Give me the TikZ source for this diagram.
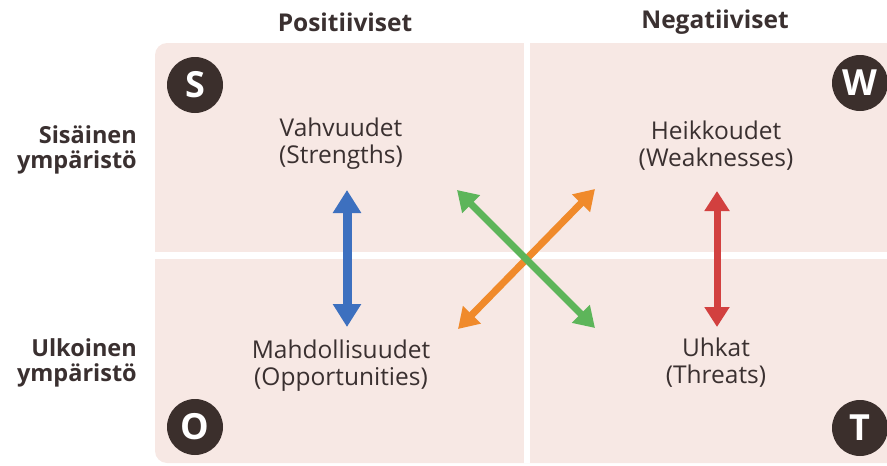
\documentclass[tikz,border=0pt]{standalone}
\usepackage{fontspec}
\setmainfont{Open Sans}
\usetikzlibrary{arrows.meta}
\definecolor{quadfill}{HTML}{F7E8E4}
\definecolor{badge}{HTML}{3B2F2C}
\definecolor{ink}{HTML}{3A3030}
\definecolor{arrblue}{HTML}{3D70BF}
\definecolor{arrred}{HTML}{D2403F}
\definecolor{arrgreen}{HTML}{5DB55A}
\definecolor{arrorange}{HTML}{F08A2B}
\tikzset{
  x=1pt, y=-1pt,
  heading/.style={font=\fontsize{24.5}{26}\selectfont\bfseries, text=ink, inner sep=0pt},
  sidelabel/.style={font=\fontsize{23.5}{24.5}\selectfont\bfseries, text=ink, align=right, anchor=east, inner sep=0pt},
  quadtext/.style={font=\fontsize{24.5}{27}\selectfont, text=ink, align=center, inner sep=0pt},
  letterbadge/.style={circle, fill=badge, minimum size=56pt, inner sep=0pt, text=white,
    font=\fontsize{36}{36}\selectfont\bfseries},
  dblarrow/.style={{Triangle[width=24pt,length=20pt]}-{Triangle[width=24pt,length=20pt]}, line width=7pt},
}
\begin{document}
\begin{tikzpicture}
\useasboundingbox (0,0) rectangle (887,466);
% quadrant background and white dividers
\begin{scope}
  \clip (0,0) rectangle (887,466);
  \fill[quadfill, rounded corners=12pt] (155,43) rectangle (920,463);
\end{scope}
\fill[white] (524,43) rectangle (530,463);
\fill[white] (155,252) rectangle (887,259);

% column and row headings
\node[heading] (pos) at (345,22) {Positiiviset};
\node[heading] (neg) at (715,22) {Negatiiviset};
\node[sidelabel] (sis) at (137,150) {Sisäinen\\ympäristö};
\node[sidelabel] (ulk) at (137,363) {Ulkoinen\\ympäristö};

% quadrant texts
\node[quadtext] (str) at (341,144) {Vahvuudet\\(Strengths)};
\node[quadtext] (wea) at (716,146) {Heikkoudet\\(Weaknesses)};
\node[quadtext] (opp) at (341,366) {Mahdollisuudet\\(Opportunities)};
\node[quadtext] (thr) at (716,363) {Uhkat\\(Threats)};

% corner badges
\node[letterbadge] (bs) at (195,85) {S};
\node[letterbadge] (bw) at (860,83) {W};
\node[letterbadge] (bo) at (195,427) {O};
\node[letterbadge] (bt) at (860,428) {T};

% arrow end points
\coordinate (sA) at (347,190);
\coordinate (oA) at (347,327);
\coordinate (wA) at (717,191);
\coordinate (tA) at (717,327);
\coordinate (gS) at (457,190);
\coordinate (gT) at (595,328);
\coordinate (oW) at (595,189);
\coordinate (oO) at (458,329);

% relation arrows
\draw[dblarrow, arrblue, line width=9pt, {Triangle[width=27pt,length=23pt]}-{Triangle[width=27pt,length=23pt]}] (sA) -- (oA);
\draw[dblarrow, arrred] (wA) -- (tA);
\draw[dblarrow, arrorange] (oW) -- (oO);
\draw[dblarrow, arrgreen] (gS) -- (gT);
\end{tikzpicture}
\end{document}
